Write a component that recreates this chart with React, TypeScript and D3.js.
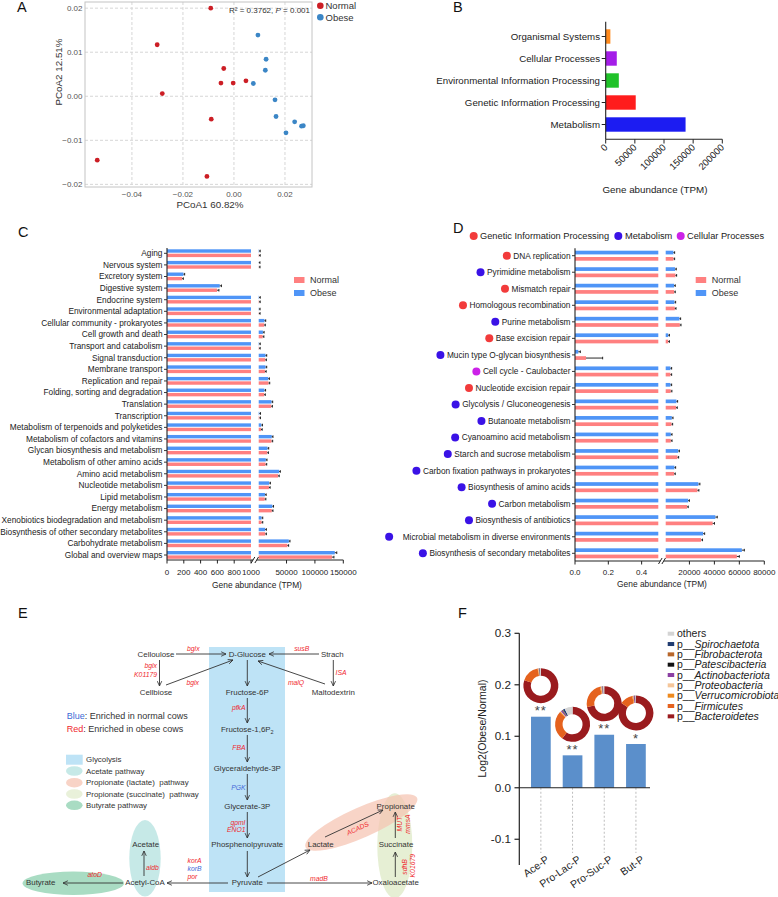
import React, { useEffect, useRef } from "react";
import * as d3 from "d3";

const FONT = "Arial, 'Liberation Sans', Helvetica, sans-serif";

// ---------------- Panel A: PCoA ----------------
const normalPC1 = [-0.0091, -0.0301, -0.004, -0.0051, -0.0003, 0.0047, -0.0281, -0.0089, -0.0536, -0.0106];
const normalPC2 = [0.02, 0.0117, 0.0063, 0.003, 0.003, 0.0035, 0.0006, -0.0052, -0.0145, -0.0182];
const obesePC1 = [0.0094, 0.0126, 0.0123, 0.0076, 0.0161, 0.0165, 0.0238, 0.0265, 0.0272, 0.0204];
const obesePC2 = [0.0139, 0.0084, 0.0059, 0.0029, -0.0008, -0.0046, -0.0058, -0.0068, -0.0067, -0.0083];
const pcoaXTicks = [-0.04, -0.02, 0, 0.02];
const pcoaYTicks = [-0.02, -0.01, 0, 0.01, 0.02];

// ---------------- Panel B: KEGG level 1 ----------------
const level1Names = ["Organismal Systems", "Cellular Processes", "Environmental Information Processing", "Genetic Information Processing", "Metabolism"];
const level1Values = [8000, 19000, 22500, 51500, 137000];
const level1Ticks = [0, 50000, 100000, 150000, 200000];
const level1Colors = ["#FF8A1C", "#A41DE8", "#20C229", "#FF1C1C", "#1C1CF2"];

// ---------------- Panel C: KEGG level 2 ----------------
const level2Names = ["Aging", "Nervous system", "Excretory system", "Digestive system", "Endocrine system", "Environmental adaptation", "Cellular community - prokaryotes", "Cell growth and death", "Transport and catabolism", "Signal transduction", "Membrane transport", "Replication and repair", "Folding, sorting and degradation", "Translation", "Transcription", "Metabolism of terpenoids and polyketides", "Metabolism of cofactors and vitamins", "Glycan biosynthesis and metabolism", "Metabolism of other amino acids", "Amino acid metabolism", "Nucleotide metabolism", "Lipid metabolism", "Energy metabolism", "Xenobiotics biodegradation and metabolism", "Biosynthesis of other secondary metabolites", "Carbohydrate metabolism", "Global and overview maps"];
const level2Normal = [1500, 1200, 180, 596, 1500, 1300, 10500, 8000, 1500, 12400, 12000, 18300, 10500, 23000, 2000, 5000, 23500, 16000, 13000, 35000, 19000, 11500, 24000, 6000, 12400, 51600, 130000];
const level2Obese = [1500, 1100, 196, 628, 1600, 1300, 11200, 8400, 1600, 13000, 13000, 17700, 11000, 23500, 2100, 5500, 24000, 16500, 13500, 37000, 19500, 12000, 25000, 6000, 12400, 54000, 135000];
const level2NormalSE = [150, 120, 14, 22, 150, 130, 450, 350, 150, 450, 450, 650, 400, 800, 200, 250, 750, 500, 450, 1100, 600, 400, 800, 300, 450, 1500, 3500];
const level2ObeseSE = [150, 120, 12, 20, 150, 130, 450, 350, 150, 450, 450, 650, 400, 800, 200, 250, 750, 500, 450, 1100, 600, 400, 800, 300, 450, 1500, 3500];
const level2TicksLow = [0, 200, 400, 600, 800, 1000];
const level2TicksHigh = [50000, 100000, 150000];

// ---------------- Panel D: KEGG level 3 ----------------
const level3Names = ["DNA replication", "Pyrimidine metabolism", "Mismatch repair", "Homologous recombination", "Purine metabolism", "Base excision repair", "Mucin type O-glycan biosynthesis", "Cell cycle - Caulobacter", "Nucleotide excision repair", "Glycolysis / Gluconeogenesis", "Butanoate metabolism", "Cyanoamino acid metabolism", "Starch and sucrose metabolism", "Carbon fixation pathways in prokaryotes", "Biosynthesis of amino acids", "Carbon metabolism", "Biosynthesis of antibiotics", "Microbial metabolism in diverse environments", "Biosynthesis of secondary metabolites"];
const level3Group = ["Genetic Information Processing", "Metabolism", "Genetic Information Processing", "Genetic Information Processing", "Metabolism", "Genetic Information Processing", "Metabolism", "Cellular Processes", "Genetic Information Processing", "Metabolism", "Metabolism", "Metabolism", "Metabolism", "Metabolism", "Metabolism", "Metabolism", "Metabolism", "Metabolism", "Metabolism"];
const level3Normal = [7200, 8800, 7700, 8300, 12300, 3000, 0.066, 4800, 5000, 9300, 5600, 5100, 10400, 7700, 26400, 18100, 38600, 29300, 58000];
const level3Obese = [7200, 8500, 7700, 8000, 12000, 3000, 0.02, 4800, 4800, 9600, 5900, 5100, 11000, 8000, 27200, 19000, 40800, 31000, 62000];
const level3NormalSE = [400, 500, 400, 450, 600, 250, 0.1, 300, 300, 500, 300, 300, 500, 400, 1200, 900, 1500, 1200, 2000];
const level3ObeseSE = [400, 500, 400, 450, 600, 250, 0.012, 300, 300, 500, 300, 300, 500, 400, 1200, 900, 1500, 1200, 2000];
const level3TicksLow = [0, 0.2, 0.4];
const level3TicksHigh = [20000, 40000, 60000, 80000];
const groupNames = ["Genetic Information Processing", "Metabolism", "Cellular Processes"];
const groupColors = ["#F23B3B", "#3A12E6", "#CC22E8"];

// ---------------- Panel F: SCFA pathways ----------------
const scfaPathways = ["Ace-P", "Pro-Lac-P", "Pro-Suc-P", "But-P"];
const scfaLog2FC = [0.138, 0.063, 0.103, 0.085];
const scfaSignif = ["**", "**", "**", "*"];
const scfaTicks = [-0.1, 0, 0.1, 0.2, 0.3];
const phylaNames = ["Bacteroidetes", "Firmicutes", "Verrucomicrobiota", "Proteobacteria", "Actinobacteriota", "Patescibacteria", "Fibrobacterota", "Spirochaetota", "others"];
const phylaAce = [0.8, 0.17, 0.006, 0.004, 0.003, 0.002, 0.002, 0.004, 0.009];
const phylaProLac = [0.6, 0.27, 0.01, 0.005, 0.012, 0.005, 0.005, 0.018, 0.075];
const phylaProSuc = [0.72, 0.24, 0.01, 0.005, 0.006, 0.002, 0.003, 0.004, 0.01];
const phylaBut = [0.85, 0.12, 0.01, 0.003, 0.01, 0.002, 0.002, 0.003, 0.005];
const phylaColors = ["#9A1B1E", "#E5621E", "#EE8A1E", "#F5C69A", "#8B3FA3", "#111111", "#B8662A", "#1F3B70", "#D4D4D4"];

const BLUE = "#4F95F7";
const RED = "#FF8080";

function txt(g: any, x: number, y: number, s: string, o: any = {}) {
  const t = g.append("text").attr("x", x).attr("y", y).text(s)
    .attr("font-size", o.size ?? 10).attr("fill", o.fill ?? "#222")
    .attr("text-anchor", o.anchor ?? "start");
  if (o.italic) t.attr("font-style", "italic");
  if (o.dy) t.attr("dy", o.dy);
  if (o.rotate != null) t.attr("transform", `rotate(${o.rotate},${x},${y})`);
  return t;
}

function panelLabel(svg: any, x: number, y: number, s: string) {
  txt(svg, x, y, s, { size: 14.5, fill: "#111" });
}

function drawA(svg: any) {
  const g = svg.append("g");
  const x = d3.scaleLinear().domain([-0.0584, 0.0306]).range([85, 312]);
  const y = d3.scaleLinear().domain([-0.0206, 0.0214]).range([187, 2]);
  const f = d3.format(".2f");
  pcoaXTicks.forEach((t) => {
    g.append("line").attr("x1", x(t)).attr("x2", x(t)).attr("y1", 2).attr("y2", 187).attr("stroke", "#d6d6d6").attr("stroke-dasharray", "3,2");
    txt(g, x(t), 196.5, f(t), { size: 8, fill: "#555", anchor: "middle" });
  });
  pcoaYTicks.forEach((t) => {
    g.append("line").attr("x1", 85).attr("x2", 312).attr("y1", y(t)).attr("y2", y(t)).attr("stroke", "#d6d6d6").attr("stroke-dasharray", "3,2");
    txt(g, 82.5, y(t), f(t), { size: 8, fill: "#555", anchor: "end", dy: "0.35em" });
  });
  g.append("rect").attr("x", 85).attr("y", 2).attr("width", 227).attr("height", 185).attr("fill", "none").attr("stroke", "#c4c4c4");
  normalPC1.forEach((v, i) => g.append("circle").attr("cx", x(v)).attr("cy", y(normalPC2[i])).attr("r", 2.4).attr("fill", "#CC1E25"));
  obesePC1.forEach((v, i) => g.append("circle").attr("cx", x(v)).attr("cy", y(obesePC2[i])).attr("r", 2.4).attr("fill", "#3B86C6"));
  txt(g, 210, 208, "PCoA1 60.82%", { size: 9.8, fill: "#333", anchor: "middle" });
  txt(g, 61.5, 72, "PCoA2 12.51%", { size: 9.8, fill: "#333", anchor: "middle", rotate: -90 });
  const ann = g.append("text").attr("x", 310).attr("y", 12.5).attr("font-size", 8).attr("fill", "#333").attr("text-anchor", "end");
  ann.append("tspan").text("R² = 0.3762, ");
  ann.append("tspan").attr("font-style", "italic").text("P");
  ann.append("tspan").text(" = 0.001");
  g.append("circle").attr("cx", 320.3).attr("cy", 5.7).attr("r", 3.3).attr("fill", "#CC1E25");
  g.append("circle").attr("cx", 320.3).attr("cy", 17.3).attr("r", 3.3).attr("fill", "#3B86C6");
  txt(g, 325.5, 5.7, "Normal", { size: 9.5, fill: "#333", dy: "0.35em" });
  txt(g, 325.5, 17.3, "Obese", { size: 9.5, fill: "#333", dy: "0.35em" });
}

function drawB(svg: any) {
  const g = svg.append("g");
  const x = d3.scaleLinear().domain([0, 200000]).range([605.7, 722.3]);
  const y = d3.scalePoint().domain(level1Names).range([36.5, 124.5]);
  level1Names.forEach((n, i) => {
    g.append("rect").attr("x", x(0)).attr("y", (y(n) as number) - 7.2).attr("width", x(level1Values[i]) - x(0)).attr("height", 14.4).attr("fill", level1Colors[i]);
    g.append("line").attr("x1", 601.7).attr("x2", 605.7).attr("y1", y(n)).attr("y2", y(n)).attr("stroke", "#222").attr("stroke-width", 1);
    txt(g, 600, y(n) as number, n, { size: 9.7, fill: "#222", anchor: "end", dy: "0.35em" });
  });
  g.append("line").attr("x1", 605.7).attr("x2", 605.7).attr("y1", 21.7).attr("y2", 139.3).attr("stroke", "#222").attr("stroke-width", 1.1);
  g.append("line").attr("x1", 605.7).attr("x2", 722.3).attr("y1", 139.3).attr("y2", 139.3).attr("stroke", "#222").attr("stroke-width", 1.1);
  level1Ticks.forEach((t) => {
    g.append("line").attr("x1", x(t)).attr("x2", x(t)).attr("y1", 139.3).attr("y2", 143.5).attr("stroke", "#222");
    txt(g, x(t) + 2.5, 148, String(t), { size: 9.5, fill: "#222", anchor: "end", rotate: -45 });
  });
  txt(g, 655, 193, "Gene abundance (TPM)", { size: 9.8, fill: "#222", anchor: "middle" });
}

function brokenBars(svg: any, c: any) {
  const g = svg.append("g");
  const y = d3.scalePoint().domain(c.names).range([c.yTop, c.yBottom]);
  const x1 = d3.scaleLinear().domain(c.lowDomain).range(c.lowRange);
  const x2 = d3.scaleLinear().domain(c.highDomain).range(c.highRange);
  const maxLow = c.lowDomain[1];
  const bar = (v: number, se: number, yy: number, color: string) => {
    g.append("rect").attr("x", x1(0)).attr("y", yy).attr("width", x1(Math.min(v, maxLow)) - x1(0)).attr("height", c.barH).attr("fill", color);
    let endX: number, errX: number;
    if (v > maxLow) {
      g.append("rect").attr("x", c.highRange[0]).attr("y", yy).attr("width", Math.max(0, x2(v) - c.highRange[0])).attr("height", c.barH).attr("fill", color);
      endX = x2(v); errX = x2(v + se);
    } else { endX = x1(v); errX = x1(v + se); }
    errX = Math.max(errX, endX + 1.2);
    const cy = yy + c.barH / 2;
    g.append("line").attr("x1", endX).attr("x2", errX).attr("y1", cy).attr("y2", cy).attr("stroke", "#111").attr("stroke-width", 0.9);
    g.append("line").attr("x1", errX).attr("x2", errX).attr("y1", cy - 1.3).attr("y2", cy + 1.3).attr("stroke", "#111").attr("stroke-width", 0.9);
  };
  c.names.forEach((n: string, i: number) => {
    const cy = y(n) as number;
    bar(c.obese[i], c.seO[i], cy + c.blueOff, BLUE);
    bar(c.normal[i], c.seN[i], cy + c.redOff, RED);
    g.append("line").attr("x1", c.axisX - 3).attr("x2", c.axisX).attr("y1", cy).attr("y2", cy).attr("stroke", "#222").attr("stroke-width", 0.9);
    const t = txt(g, c.axisX - 4.5, cy, n, { size: c.labelSize, fill: "#222", anchor: "end", dy: "0.35em" });
    if (c.groups) {
      const w = (t.node() as SVGTextElement).getComputedTextLength();
      const extra = n.startsWith("Microbial") ? 7 : 0;
      const gi = groupNames.indexOf(c.groups[i]);
      g.append("circle").attr("cx", c.axisX - 4.5 - w - 6.5 - extra).attr("cy", cy).attr("r", 4).attr("fill", groupColors[gi]);
    }
  });
  // axes
  g.append("line").attr("x1", c.axisX).attr("x2", c.axisX).attr("y1", c.axisTop).attr("y2", c.axisY).attr("stroke", "#222").attr("stroke-width", 1.1);
  g.append("line").attr("x1", c.axisX).attr("x2", c.lowRange[1] + 2).attr("y1", c.axisY).attr("y2", c.axisY).attr("stroke", "#222").attr("stroke-width", 1.1);
  g.append("line").attr("x1", c.highRange[0] - 2).attr("x2", c.highRange[1]).attr("y1", c.axisY).attr("y2", c.axisY).attr("stroke", "#222").attr("stroke-width", 1.1);
  [c.lowRange[1] + 2, c.highRange[0] - 2].forEach((bx: number) => {
    g.append("line").attr("x1", bx - 1.8).attr("x2", bx + 1.8).attr("y1", c.axisY + 3).attr("y2", c.axisY - 3).attr("stroke", "#222").attr("stroke-width", 1);
  });
  c.ticksLow.forEach((t: number) => {
    g.append("line").attr("x1", x1(t)).attr("x2", x1(t)).attr("y1", c.axisY).attr("y2", c.axisY + 3.5).attr("stroke", "#222");
    txt(g, x1(t), c.tickLabelY, c.fmtLow(t), { size: c.tickSize, fill: "#222", anchor: "middle" });
  });
  c.ticksHigh.forEach((t: number) => {
    g.append("line").attr("x1", x2(t)).attr("x2", x2(t)).attr("y1", c.axisY).attr("y2", c.axisY + 3.5).attr("stroke", "#222");
    txt(g, x2(t), c.tickLabelY, String(t), { size: c.tickSize, fill: "#222", anchor: "middle" });
  });
  txt(g, c.titleX, c.titleY, "Gene abundance (TPM)", { size: 8.4, fill: "#222", anchor: "middle" });
  // legend
  g.append("rect").attr("x", c.legX).attr("y", c.legY - 3).attr("width", 10.5).attr("height", 6).attr("fill", RED);
  g.append("rect").attr("x", c.legX).attr("y", c.legY + 10).attr("width", 10.5).attr("height", 6).attr("fill", BLUE);
  txt(g, c.legX + 16, c.legY, "Normal", { size: 9, fill: "#333", dy: "0.35em" });
  txt(g, c.legX + 16, c.legY + 13, "Obese", { size: 9, fill: "#333", dy: "0.35em" });
}

function drawC(svg: any) {
  brokenBars(svg, {
    names: level2Names, normal: level2Normal, obese: level2Obese, seN: level2NormalSE, seO: level2ObeseSE,
    yTop: 253.3, yBottom: 555, axisX: 167, axisTop: 248, axisY: 560,
    lowDomain: [0, 1000], lowRange: [167, 251], highDomain: [1000, 150000], highRange: [258.7, 343.3],
    blueOff: -4, redOff: 0.4, barH: 3.4, labelSize: 8.3, tickSize: 8, tickLabelY: 574.5,
    ticksLow: level2TicksLow, ticksHigh: level2TicksHigh, fmtLow: (t: number) => String(t),
    titleX: 257, titleY: 588, legX: 294, legY: 280,
  });
}

function drawD(svg: any) {
  const g = svg.append("g");
  const legend = [[473.7, 480], [618.3, 625], [680.7, 687]];
  groupNames.forEach((n, i) => {
    g.append("circle").attr("cx", legend[i][0]).attr("cy", 236).attr("r", 4).attr("fill", groupColors[i]);
    txt(g, legend[i][1], 236, n, { size: 9.25, fill: "#222", dy: "0.35em" });
  });
  brokenBars(svg, {
    names: level3Names, groups: level3Group, normal: level3Normal, obese: level3Obese, seN: level3NormalSE, seO: level3ObeseSE,
    yTop: 255.7, yBottom: 553.3, axisX: 575, axisTop: 248.3, axisY: 561,
    lowDomain: [0, 0.5], lowRange: [575, 658.3], highDomain: [1000, 80000], highRange: [665.7, 764.3],
    blueOff: -5, redOff: 1.3, barH: 3.7, labelSize: 8.3, tickSize: 8, tickLabelY: 574.5,
    ticksLow: level3TicksLow, ticksHigh: level3TicksHigh, fmtLow: d3.format(".1f"),
    titleX: 662, titleY: 587, legX: 695.7, legY: 280,
  });
}

function drawE(svg: any) {
  const g = svg.append("g");
  const defs = svg.append("defs");
  defs.append("marker").attr("id", "arr").attr("viewBox", "0 0 8 8").attr("refX", 7.5).attr("refY", 4)
    .attr("markerWidth", 6).attr("markerHeight", 6).attr("markerUnits", "userSpaceOnUse").attr("orient", "auto")
    .append("path").attr("d", "M1,1 L7.5,4 L1,7").attr("fill", "none").attr("stroke", "#333").attr("stroke-width", 1.1);
  g.append("rect").attr("x", 209).attr("y", 647).attr("width", 76).attr("height", 245).attr("fill", "#BEE3F6");
  g.append("ellipse").attr("cx", 73.3).attr("cy", 883.3).attr("rx", 50.7).attr("ry", 11.7).attr("fill", "#A9DCC3");
  g.append("ellipse").attr("cx", 145).attr("cy", 858.3).attr("rx", 15.7).attr("ry", 38.3).attr("fill", "#C6E9E7");
  g.append("ellipse").attr("cx", 394.8).attr("cy", 845.8).attr("rx", 17.5).attr("ry", 52.5).attr("fill", "#E6EFD4");
  g.append("ellipse").attr("cx", 361.3).attr("cy", 822.5).attr("rx", 61).attr("ry", 15).attr("transform", "rotate(-23.9,361.3,822.5)").attr("fill", "#F5C4B2").attr("opacity", 0.72);

  const arrows = [
    [176, 654, 226, 654], [319, 654, 269, 654], [159.5, 660, 159.5, 686], [166, 685, 233, 660],
    [325, 684, 258, 661], [333.3, 660, 333.3, 686], [247.3, 660, 247.3, 686], [247.3, 698, 247.3, 723],
    [247.3, 735, 247.3, 762], [247.3, 774, 247.3, 800], [247.3, 812, 247.3, 838], [247.3, 851, 247.3, 877],
    [228, 883, 167, 883], [144, 876, 144, 851], [123, 883, 63, 883], [258, 877, 310, 850],
    [325, 837, 383, 810], [267, 883, 372, 883], [395.3, 877, 395.3, 852], [395.3, 838, 395.3, 812],
  ];
  arrows.forEach((a) => g.append("line").attr("x1", a[0]).attr("y1", a[1]).attr("x2", a[2]).attr("y2", a[3])
    .attr("stroke", "#333").attr("stroke-width", 0.9).attr("marker-end", "url(#arr)"));

  const nodes: [string, number, number][] = [
    ["Celloulose", 156, 654], ["D-Glucose", 247.3, 654], ["Strach", 332.3, 654], ["Cellbiose", 156, 692],
    ["Maltodextrin", 333.3, 692], ["Fructose-6P", 247.3, 692], ["Glyceraldehyde-3P", 247.3, 768.3],
    ["Glycerate-3P", 247.3, 806], ["Phosphenolpyruvate", 247.3, 844.3], ["Pyruvate", 247.3, 882.7],
    ["Acetyl-CoA", 145, 882.7], ["Acetate", 145.7, 844.3], ["Butyrate", 40.7, 882.7], ["Lactate", 320.7, 844.3],
    ["Propionate", 395.7, 806], ["Succinate", 396, 844.3], ["Oxaloacetate", 395.7, 882.7],
  ];
  nodes.forEach((n) => txt(g, n[1], n[2], n[0], { size: 7.9, fill: "#333", anchor: "middle", dy: "0.35em" }));
  const f16 = g.append("text").attr("x", 247.3).attr("y", 729).attr("dy", "0.35em").attr("font-size", 7.9).attr("fill", "#333").attr("text-anchor", "middle");
  f16.append("tspan").text("Fructose-1,6P");
  f16.append("tspan").attr("font-size", 5.5).attr("dy", 2).text("2");

  const ER = "#F0282E", EB = "#4468D8";
  const enz: [string, number, number, string, string, number][] = [
    ["bglx", 193.3, 648.5, ER, "middle", 0], ["susB", 301.7, 648.5, ER, "middle", 0],
    ["bglx", 157, 666, ER, "end", 0], ["K01179", 157, 674.3, ER, "end", 0],
    ["bglx", 192.7, 682.7, ER, "middle", 0], ["malQ", 296, 683, ER, "middle", 0], ["ISA", 341, 672.3, ER, "middle", 0],
    ["pfkA", 245.5, 707.3, ER, "end", 0], ["FBA", 245.5, 747.3, ER, "end", 0], ["PGK", 245.5, 787.3, EB, "end", 0],
    ["gpmI", 245.5, 822.3, ER, "end", 0], ["ENO1", 245.5, 829.5, ER, "end", 0],
    ["korA", 187.5, 860.7, ER, "start", 0], ["korB", 187.5, 868.5, EB, "start", 0], ["por", 187.5, 876.7, ER, "start", 0],
    ["aldb", 146, 867.7, ER, "start", 0], ["atoD", 94.7, 875, ER, "middle", 0], ["madB", 319, 878.3, ER, "middle", 0],
    ["ACADS", 357.7, 828.3, ER, "middle", -25],
    ["MUT", 399.5, 824, ER, "middle", -90], ["mmsA", 407.5, 824, ER, "middle", -90],
    ["sdhB", 404.5, 867, ER, "middle", -90], ["K01679", 413, 865.7, ER, "middle", -90],
  ];
  enz.forEach((e) => txt(g, e[1], e[2], e[0], { size: 6.8, fill: e[3], anchor: e[4], italic: true, dy: "0.35em", rotate: e[5] !== 0 ? e[5] : null }));

  const l1 = g.append("text").attr("x", 66.7).attr("y", 716).attr("dy", "0.35em").attr("font-size", 9).attr("fill", "#333");
  l1.append("tspan").attr("fill", "#3D6BD6").text("Blue");
  l1.append("tspan").text(": Enriched in normal cows");
  const l2 = g.append("text").attr("x", 66.7).attr("y", 729).attr("dy", "0.35em").attr("font-size", 9).attr("fill", "#333");
  l2.append("tspan").attr("fill", "#F0282E").text("Red");
  l2.append("tspan").text(": Enriched in obese cows");

  const legItems: [string, string, string, number][] = [
    ["Glycolysis", "#BEE3F6", "rect", 759.7], ["Acetate pathway", "#C6E9E7", "ell", 771],
    ["Propionate (lactate)  pathway", "#F8D3C6", "ell", 782.7], ["Propionate (succinate)  pathway", "#E9F1DA", "ell", 794],
    ["Butyrate pathway", "#A9DCC3", "ell", 805.3],
  ];
  legItems.forEach((it) => {
    if (it[2] === "rect") g.append("rect").attr("x", 66).attr("y", it[3] - 5).attr("width", 16.7).attr("height", 10).attr("fill", it[1]);
    else g.append("ellipse").attr("cx", 74.3).attr("cy", it[3]).attr("rx", 8.3).attr("ry", 4.8).attr("fill", it[1]);
    txt(g, 86, it[3], it[0], { size: 7.9, fill: "#333", dy: "0.35em" }).style("white-space", "pre");
  });
}

function drawF(svg: any) {
  const g = svg.append("g");
  const y = d3.scaleLinear().domain([-0.15, 0.3]).range([865, 633.3]);
  const x = d3.scaleBand().domain(scfaPathways).range([525, 651.8]).paddingInner(0.378).paddingOuter(0.19);
  const y0 = y(0);
  scfaPathways.forEach((p, i) => {
    const cx = (x(p) as number) + x.bandwidth() / 2;
    g.append("line").attr("x1", cx).attr("x2", cx).attr("y1", y0).attr("y2", 853).attr("stroke", "#b5b5b5").attr("stroke-dasharray", "2,2").attr("stroke-width", 0.9);
    g.append("rect").attr("x", x(p)).attr("y", y(scfaLog2FC[i])).attr("width", x.bandwidth()).attr("height", y0 - y(scfaLog2FC[i])).attr("fill", "#5B8FCB");
    txt(g, cx, y(scfaLog2FC[i]) - 1.5, scfaSignif[i], { size: 13, fill: "#444", anchor: "middle" }).attr("letter-spacing", 1);
    txt(g, cx + 9, 861, p, { size: 10.5, fill: "#222", anchor: "end", rotate: -35 });
  });
  const comps = [phylaAce, phylaProLac, phylaProSuc, phylaBut];
  const pie = d3.pie<number>().sort(null).value((d) => d);
  const arc = d3.arc<any>().innerRadius(10).outerRadius(17.5);
  comps.forEach((comp, i) => {
    const p = scfaPathways[i];
    const cx = (x(p) as number) + x.bandwidth() / 2;
    const cy = y(scfaLog2FC[i]) - 31;
    const dg = g.append("g").attr("transform", `translate(${cx},${cy})`);
    dg.selectAll("path").data(pie(comp)).enter().append("path").attr("d", arc as any).attr("fill", (_d: any, j: number) => phylaColors[j]);
  });
  g.append("line").attr("x1", 519.3).attr("x2", 519.3).attr("y1", 633.3).attr("y2", 865).attr("stroke", "#222").attr("stroke-width", 1.2);
  g.append("line").attr("x1", 519.3).attr("x2", 650).attr("y1", y0).attr("y2", y0).attr("stroke", "#222").attr("stroke-width", 1.2);
  scfaTicks.forEach((t) => {
    g.append("line").attr("x1", 514.5).attr("x2", 519.3).attr("y1", y(t)).attr("y2", y(t)).attr("stroke", "#222").attr("stroke-width", 1.2);
    txt(g, 511, y(t), d3.format(".1f")(t).replace("−", "-"), { size: 11.7, fill: "#222", anchor: "end", dy: "0.35em" });
  });
  txt(g, 482, 728.5, "Log2(Obese/Normal)", { size: 10.5, fill: "#222", anchor: "middle", rotate: -90, dy: "0.35em" });
  const order = [8, 7, 6, 5, 4, 3, 2, 1, 0];
  order.forEach((j, k) => {
    const yy = 633.7 + k * 10.33;
    g.append("rect").attr("x", 667.7).attr("y", yy - 2).attr("width", 6.5).attr("height", 4).attr("fill", phylaColors[j]);
    const t = g.append("text").attr("x", 677).attr("y", yy).attr("dy", "0.35em").attr("font-size", 10.5).attr("fill", "#222");
    if (phylaNames[j] === "others") t.text("others");
    else { t.append("tspan").text("p__"); t.append("tspan").attr("font-style", "italic").text(phylaNames[j]); }
  });
}

export default function App() {
  const ref = useRef<SVGSVGElement>(null);
  useEffect(() => {
    const svg = d3.select(ref.current);
    svg.selectAll("*").remove();
    panelLabel(svg, 17, 12, "A");
    panelLabel(svg, 453, 12, "B");
    panelLabel(svg, 18, 237, "C");
    panelLabel(svg, 453, 233, "D");
    panelLabel(svg, 18, 618, "E");
    panelLabel(svg, 458, 618, "F");
    drawA(svg);
    drawB(svg);
    drawC(svg);
    drawD(svg);
    drawE(svg);
    drawF(svg);
  }, []);
  return (
    <svg ref={ref} width={778} height={897} style={{ position: "absolute", left: 0, top: 0, fontFamily: FONT, background: "#fff" }} />
  );
}
